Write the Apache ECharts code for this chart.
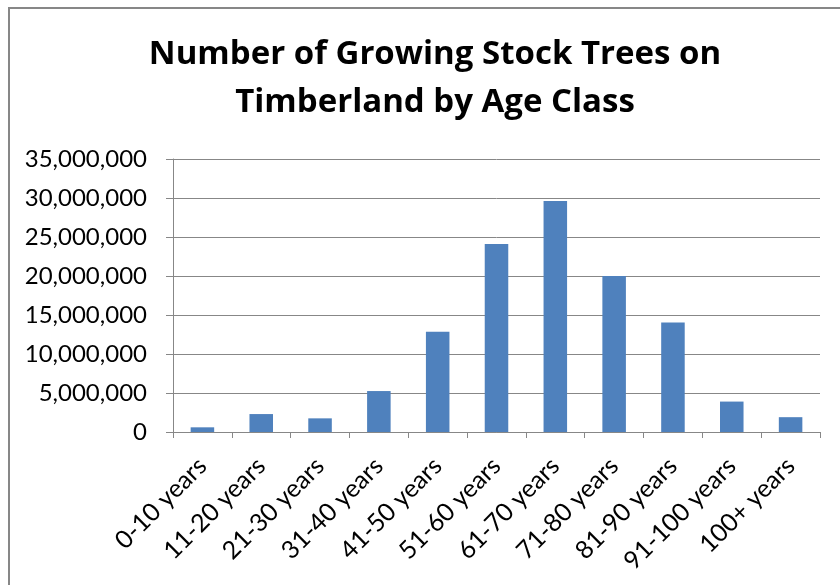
<!DOCTYPE html>
<html>
<head>
<meta charset="utf-8">
<script src="https://cdn.jsdelivr.net/npm/echarts@6/dist/echarts.min.js"></script>
<style>
  html, body { margin: 0; padding: 0; background: #fff; }
  #chart { width: 840px; height: 585px; }
</style>
</head>
<body>
<div id="chart"></div>
<script>
  // categories and values
  var ageClasses = ['0-10 years', '11-20 years', '21-30 years', '31-40 years', '41-50 years',
    '51-60 years', '61-70 years', '71-80 years', '81-90 years', '91-100 years', '100+ years'];
  var treeCounts = [600000, 2300000, 1750000, 5250000, 12850000,
    24100000, 29600000, 20000000, 14050000, 3900000, 1900000];
  var yTicks = [0, 5000000, 10000000, 15000000, 20000000, 25000000, 30000000, 35000000];

  var myChart = echarts.init(document.getElementById('chart'));
  var option = {
    animation: false,
    backgroundColor: '#fff',
    title: {
      text: 'Number of Growing Stock Trees on\nTimberland by Age Class',
      left: 430,
      top: 26,
      textAlign: 'center',
      textStyle: {
        fontFamily: 'Open Sans',
        fontWeight: 'bold',
        fontSize: 33,
        lineHeight: 48,
        color: '#000'
      }
    },
    graphic: [{
      type: 'rect',
      shape: { x: 9, y: 8, width: 900, height: 900 },
      style: { fill: 'none', stroke: '#878787', lineWidth: 2 },
      silent: true
    }],
    grid: {
      left: 173,
      right: 20,
      top: 159,
      bottom: 153
    },
    xAxis: {
      type: 'category',
      data: ageClasses,
      axisLine: { lineStyle: { color: '#878787', width: 1 } },
      axisTick: { show: true, length: 6, alignWithLabel: false, lineStyle: { color: '#878787' } },
      axisLabel: {
        rotate: 45,
        interval: 0,
        margin: 30,
        fontFamily: 'Lato',
        fontSize: 25,
        color: '#000'
      }
    },
    yAxis: {
      type: 'value',
      min: yTicks[0],
      max: yTicks[yTicks.length - 1],
      interval: yTicks[1] - yTicks[0],
      axisLine: { show: true, lineStyle: { color: '#878787', width: 1 } },
      axisTick: { show: true, length: 7, lineStyle: { color: '#878787' } },
      splitLine: { lineStyle: { color: '#878787', width: 1 } },
      axisLabel: {
        margin: 26,
        fontFamily: 'Lato',
        fontSize: 24,
        color: '#000',
        formatter: function (v) {
          return v.toString().replace(/\B(?=(\d{3})+(?!\d))/g, ',');
        }
      }
    },
    series: [{
      type: 'bar',
      data: treeCounts,
      barCategoryGap: '60%',
      itemStyle: { color: '#4F81BD' }
    }]
  };
  myChart.setOption(option);
</script>
</body>
</html>
